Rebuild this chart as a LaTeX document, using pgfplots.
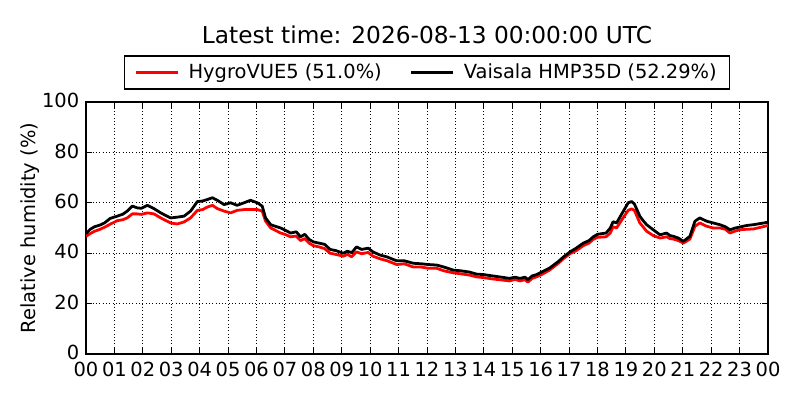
\documentclass[border=0pt]{standalone}
\usepackage{pgfplots}
\pgfplotsset{compat=1.18}
\usepackage{fontspec}
\setmainfont{DejaVu Sans}
\pgfplotstableread{
h v
0.00 46.7
0.15 47.8
0.30 48.7
0.50 49.5
0.65 50.3
0.85 51.5
1.10 52.9
1.30 53.3
1.45 54.0
1.63 55.6
1.80 55.6
1.95 55.4
2.16 56.0
2.39 55.6
2.63 54.0
2.80 53.0
2.98 52.0
3.21 51.6
3.45 52.4
3.68 54.0
3.92 57.0
4.10 57.3
4.27 58.3
4.45 59.0
4.62 57.7
4.86 56.7
5.09 56.0
5.32 57.0
5.56 57.3
5.79 57.3
6.03 57.3
6.20 56.7
6.32 52.7
6.50 50.0
6.85 48.0
7.00 47.5
7.20 46.5
7.40 46.8
7.55 45.0
7.70 45.8
7.85 44.0
8.00 43.0
8.20 42.5
8.40 41.8
8.59 40.0
8.80 39.5
9.05 38.8
9.20 39.5
9.35 38.6
9.52 40.5
9.70 39.8
9.93 40.3
10.10 38.8
10.34 37.8
10.60 37.0
10.93 35.5
11.20 35.8
11.52 34.5
11.80 34.5
12.05 34.0
12.34 34.0
12.60 33.0
12.92 32.2
13.20 31.8
13.50 31.3
13.75 30.6
14.00 30.3
14.30 29.8
14.68 29.3
14.90 29.0
15.10 29.6
15.27 29.0
15.45 29.5
15.55 28.5
15.70 30.0
15.85 30.6
16.03 31.5
16.30 33.2
16.60 35.8
16.80 37.8
17.03 39.8
17.25 41.0
17.50 43.0
17.70 44.0
17.85 45.5
18.00 46.3
18.30 46.5
18.45 48.0
18.55 50.5
18.67 50.0
18.90 54.0
19.08 57.0
19.20 57.6
19.30 57.0
19.49 52.0
19.60 50.5
19.73 48.7
19.96 47.0
20.20 46.0
20.43 46.5
20.55 45.8
20.67 45.6
20.85 45.0
21.02 44.0
21.25 45.6
21.43 50.7
21.60 52.0
21.84 50.7
22.07 50.0
22.31 50.0
22.50 49.5
22.66 48.0
22.85 48.8
23.01 49.3
23.25 49.5
23.48 49.6
23.75 50.3
24.00 51.0
}\hygro
\pgfplotstableread{
h v
0.00 47.8
0.15 49.5
0.30 50.5
0.50 51.2
0.65 52.0
0.85 53.8
1.10 54.7
1.30 55.5
1.45 56.7
1.63 58.7
1.80 58.0
1.95 57.8
2.16 59.0
2.39 57.7
2.63 56.0
2.80 55.0
2.98 54.0
3.21 54.3
3.45 54.7
3.68 56.7
3.92 60.5
4.10 60.7
4.27 61.3
4.45 62.0
4.62 61.0
4.86 59.3
5.09 60.0
5.32 59.0
5.56 60.0
5.79 61.0
6.03 60.0
6.20 58.7
6.32 54.0
6.50 51.3
6.85 50.0
7.00 49.2
7.20 48.0
7.40 48.5
7.55 46.5
7.70 47.5
7.85 45.5
8.00 44.5
8.20 44.0
8.40 43.5
8.59 41.5
8.80 41.0
9.05 40.0
9.20 40.8
9.35 40.2
9.52 42.5
9.70 41.5
9.93 42.0
10.10 40.5
10.34 39.3
10.60 38.5
10.93 37.0
11.20 37.0
11.52 36.0
11.80 35.8
12.05 35.5
12.34 35.3
12.60 34.5
12.92 33.3
13.20 33.0
13.50 32.5
13.75 31.7
14.00 31.5
14.30 31.0
14.68 30.4
14.90 30.0
15.10 30.5
15.27 30.0
15.45 30.5
15.55 29.5
15.70 31.0
15.85 31.5
16.03 32.5
16.30 34.0
16.60 36.5
16.80 38.5
17.03 40.5
17.25 42.0
17.50 44.0
17.70 45.0
17.85 46.5
18.00 47.5
18.30 48.0
18.45 50.0
18.55 52.5
18.67 52.0
18.90 56.5
19.08 60.0
19.20 60.5
19.30 59.5
19.49 54.7
19.60 53.0
19.73 51.3
19.96 49.3
20.20 47.3
20.43 48.0
20.55 47.0
20.67 46.7
20.85 46.0
21.02 44.7
21.25 46.7
21.43 52.7
21.60 54.0
21.84 52.7
22.07 52.0
22.31 51.3
22.50 50.5
22.66 49.3
22.85 50.0
23.01 50.4
23.25 51.0
23.48 51.3
23.75 51.8
24.00 52.3
}\vaisala
\begin{document}
\fontsize{14bp}{17bp}\selectfont
\begin{tikzpicture}
\path[use as bounding box] (-61.92bp,-33.12bp) rectangle (514.08bp,254.88bp);
\begin{axis}[
  at={(0,0)}, anchor=south west,
  scale only axis, width=491.04bp, height=181.44bp,
  xmin=0, xmax=24, ymin=0, ymax=100,
  xtick={0,1,...,24},
  xticklabels={00,01,02,03,04,05,06,07,08,09,10,11,12,13,14,15,16,17,18,19,20,21,22,23,00},
  ytick={0,20,40,60,80,100},
  /pgf/number format/assume math mode=true,
  ticklabel style={font=\fontsize{14bp}{17bp}\selectfont},
  xticklabel style={inner xsep=0pt, yshift=-1bp},
  yticklabel style={yshift=1bp},
  tick align=inside, major tick length=4bp,
  tick style={black, line width=0.7bp},
  axis line style={line width=0.8bp},
  grid=major,
  major grid style={black, dotted, line width=0.7bp},
  ylabel={Relative humidity (\%)},
  ylabel style={at={(axis description cs:-0.082,0.5)}, anchor=center, font=\fontsize{14bp}{17bp}\selectfont},
  legend columns=2,
  legend style={at={(axis description cs:0.5,1.1171)}, anchor=center,
    draw=black, line width=0.8bp, inner xsep=7bp, inner ysep=3.5bp,
    font=\fontsize{14bp}{17bp}\selectfont,
    /tikz/every odd column/.append style={column sep=5bp},
    /tikz/every even column/.append style={column sep=18bp}},
  legend image code/.code={\draw[#1] (0bp,0bp) -- (30bp,0bp);},
]
\addplot[red, line width=2bp, line join=round] table[x=h, y=v] {\hygro};
\addlegendentry{HygroVUE5 (51.0\%)}
\addplot[black, line width=2bp, line join=round] table[x=h, y=v] {\vaisala};
\addlegendentry{Vaisala HMP35D (52.29\%)}
\end{axis}
\node[font=\fontsize{16.75bp}{20bp}\selectfont] at (245.52bp,229.68bp) {Latest time: 2026-08-13 00:00:00 UTC};
\end{tikzpicture}
\end{document}
